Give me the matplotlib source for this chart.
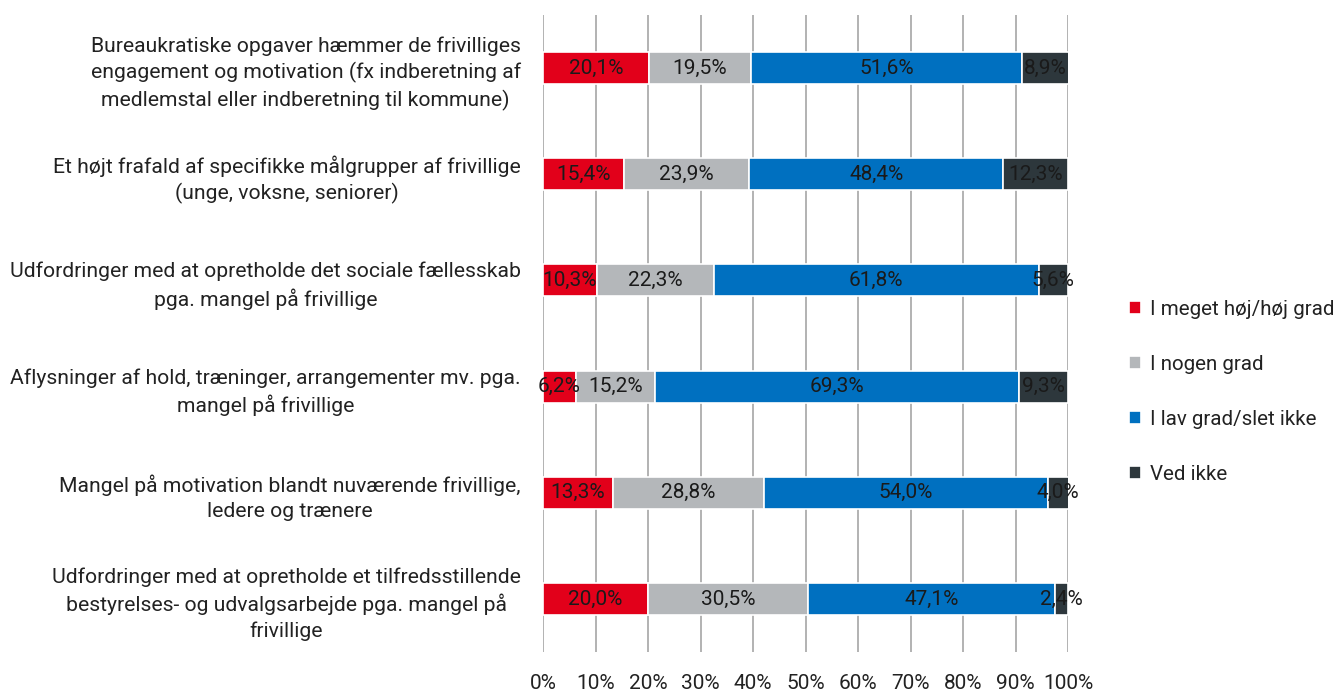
import matplotlib
matplotlib.use("Agg")
import matplotlib.pyplot as plt
import numpy as np

plt.rcParams['font.family'] = ['Roboto', 'DejaVu Sans']

categories = [
    "Bureaukratiske opgaver hæmmer de frivilliges\nengagement og motivation (fx indberetning af\nmedlemstal eller indberetning til kommune)",
    "Et højt frafald af specifikke målgrupper af frivillige\n(unge, voksne, seniorer)",
    "Udfordringer med at opretholde det sociale fællesskab\npga. mangel på frivillige",
    "Aflysninger af hold, træninger, arrangementer mv. pga.\nmangel på frivillige",
    "Mangel på motivation blandt nuværende frivillige,\nledere og trænere",
    "Udfordringer med at opretholde et tilfredsstillende\nbestyrelses- og udvalgsarbejde pga. mangel på\nfrivillige",
]
series_names = ["I meget høj/høj grad", "I nogen grad", "I lav grad/slet ikke", "Ved ikke"]
hoej = [20.1, 15.4, 10.3, 6.2, 13.3, 20.0]
nogen = [19.5, 23.9, 22.3, 15.2, 28.8, 30.5]
lav = [51.6, 48.4, 61.8, 69.3, 54.0, 47.1]
ved_ikke = [8.9, 12.3, 5.6, 9.3, 4.0, 2.4]
tick_values = [0, 10, 20, 30, 40, 50, 60, 70, 80, 90, 100]
tick_labels = [f"{v}%" for v in tick_values]

colors = ["#E2001A", "#B4B7BA", "#0070C0", "#2D373C"]

fig = plt.figure(figsize=(13.37, 6.91), dpi=100)
ax = fig.add_axes([543/1337, 1-652/691, (1068-543)/1337, (652-15)/691])

y = np.arange(len(categories))
left = np.zeros(len(categories))
for name, vals, c in zip(series_names, [hoej, nogen, lav, ved_ikke], colors):
    vals = np.array(vals)
    ax.barh(y, vals, left=left, height=0.3, color=c, edgecolor="white",
            linewidth=1.2, label=name, zorder=3)
    for yi, l, v in zip(y, left, vals):
        ax.text(l + v/2, yi, f"{v:.1f}%".replace(".", ","), ha="center", va="center",
                fontsize=15, color="#1a1a1a", zorder=4)
    left += vals

ax.set_xlim(0, 100)
ax.set_ylim(len(categories)-0.5, -0.5)
ax.set_xticks(tick_values)
ax.set_xticklabels(tick_labels, fontsize=15, color="#222222")
ax.set_yticks(y)
ax.set_yticklabels(categories, fontsize=15.2, color="#222222", multialignment="center",
                   linespacing=1.4)
ax.tick_params(axis="y", length=0, pad=16)
ax.tick_params(axis="x", length=0, pad=16)
ax.grid(axis="x", color="#ADADAD", linewidth=1.3, zorder=0)
for s in ax.spines.values():
    s.set_visible(False)

leg = fig.legend(loc="center left", bbox_to_anchor=(1129/1337, 1-392/691), frameon=False,
                 fontsize=14.8, handlelength=0.6, handleheight=0.6, handletextpad=0.4,
                 labelspacing=1.75, borderpad=0, borderaxespad=0)
for t in leg.get_texts():
    t.set_color("#222222")

fig.savefig("out.png", dpi=100)
